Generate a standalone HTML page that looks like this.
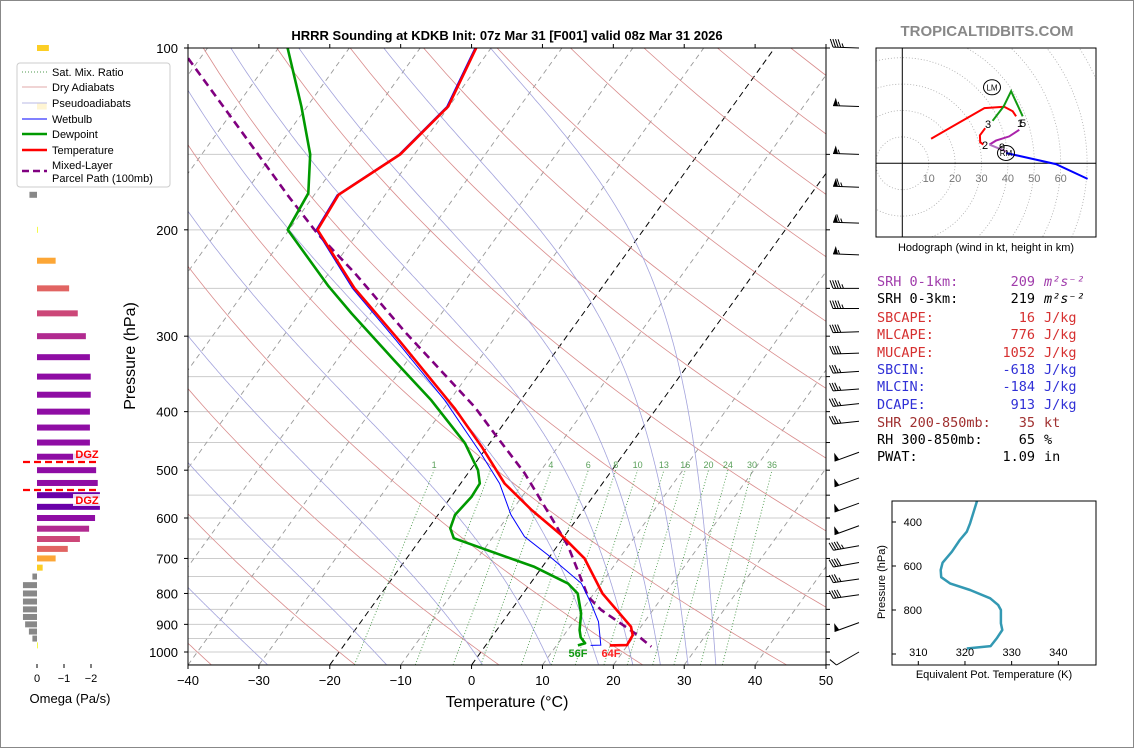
<!DOCTYPE html>
<html><head><meta charset="utf-8"><style>
html,body{margin:0;padding:0;background:#fff;}
svg{display:block;font-family:"Liberation Sans","DejaVu Sans",sans-serif;}
.mono{font-family:"DejaVu Sans Mono","Liberation Mono",monospace;font-size:13.5px;}
</style></head><body>
<svg id="chart" xmlns="http://www.w3.org/2000/svg" width="1134" height="748" viewBox="0 0 1134 748">
<defs>
<clipPath id="mainclip"><rect x="188" y="48" width="638" height="617"/></clipPath>
<clipPath id="hodoclip"><rect x="876" y="48" width="220" height="189"/></clipPath>
<clipPath id="eptclip"><rect x="892" y="501" width="204" height="164"/></clipPath>
</defs>
<rect x="0.5" y="0.5" width="1133" height="747" fill="#fff" stroke="#888"/>
<text x="507" y="40" text-anchor="middle" font-size="13" font-weight="bold">HRRR Sounding at KDKB Init: 07z Mar 31 [F001] valid 08z Mar 31 2026</text>
<text x="987" y="36" text-anchor="middle" font-size="15" font-weight="bold" fill="#888">TROPICALTIDBITS.COM</text>
<g id="main"></g>
<g id="omega"></g>
<g id="hodo"></g>
<g id="ept"></g>
<g id="stats"></g>
</svg>
<script>
// ---------- DATA ----------
const TEMP_P = [100,125,150,175,200,250,304,395,457,526,582,640,700,800,908,938,974,975];
const TEMP_T = [-62.1,-60.1,-62.0,-66.6,-66.0,-54.8,-43.4,-28.5,-20.8,-13.8,-7.3,-0.6,5.1,11.2,18.6,19.7,19.9,17.5];
const DEW_P = [100,125,150,174,200,248,275,329,383,451,500,526,553,593,624,648,723,770,800,863,920,946,967,975];
const DEW_T = [-88.7,-80.8,-74.7,-71.0,-70.2,-58.7,-52.7,-41.9,-32.6,-23.5,-18.9,-17.3,-17.1,-17.6,-16.9,-15.4,-1.1,5.3,7.7,10.2,11.7,12.6,13.8,13.0];
const WET_P = [100,125,150,175,200,250,304,383,469,526,593,644,691,770,831,891,974,975];
const WET_T = [-62.3,-60.3,-62.2,-66.8,-66.2,-55.1,-43.8,-30.7,-20.2,-14.5,-9.7,-5.6,-0.4,7.2,10.6,13.5,16.2,14.8];
const PARCEL_P = [104,135,176,203,236,295,393,435,506,612,669,810,852,931,980];
const PARCEL_T = [-101.7,-87.7,-73.5,-65.6,-56.3,-43.3,-25.8,-20.3,-12.0,-2.7,1.6,9.5,12.7,19.8,23.5];
const T_TICKS = [-40,-30,-20,-10,0,10,20,30,40,50];
const P_TICKS = [100,200,300,400,500,600,700,800,900,1000];
const MIX_RATIOS = [1,2,3,4,6,8,10,13,16,20,24,30,36];
const MIX_LABELED = [1,4,6,8,10,13,16,20,24,30,36];
const MOIST_T0 = [-32,-15,-1,9,16,21,25,29,33];
const WIND_P = [100,125,150,170,195,220,250,270,295,320,343,367,388,415,467,515,567,618,667,711,757,804,894,1000];
const WIND_SPD = [45,55,55,65,65,55,45,45,40,40,35,35,35,35,50,50,50,50,45,40,35,40,50,10];
const WIND_DIR = [272,272,272,272,272,272,270,270,268,268,266,266,264,264,250,250,250,250,260,260,262,262,250,240];
const OMEGA_P = [100,125,175,200,225,250,275,300,325,350,375,400,425,450,475,500,525,550,575,600,625,650,675,700,725,750,775,800,825,850,875,900,925,950,975];
const OMEGA = [-0.44,-0.36,0.28,-0.03,-0.69,-1.19,-1.51,-1.81,-1.96,-1.99,-1.99,-1.96,-1.96,-1.96,-2.03,-2.19,-2.25,-2.33,-2.33,-2.15,-1.93,-1.59,-1.14,-0.69,-0.21,0.17,0.52,0.52,0.52,0.52,0.52,0.44,0.30,0.17,-0.02];
const OMEGA_TICKS = [0,-1,-2];
const HODO_RED = [[10.9,9.3],[31.1,20.9],[38.6,21.4],[41.8,19.7],[43.1,17.8]];
const HODO_RED2 = [[31.4,13.3],[29.4,10.6],[29.5,8.0],[30.7,7.1]];
const HODO_GREEN = [[34.2,16.1],[38.4,21.6],[41.2,27.3],[45.6,17.8]];
const HODO_MAGENTA = [[44.3,12.7],[40.5,10.2],[35.5,8.6],[33.0,7.1]];
const HODO_PURPLE = [[33.0,7.1],[39.3,4.5]];
const HODO_BLUE = [[39.3,3.9],[58.2,-0.3],[70.2,-5.9]];
const HODO_RINGS = [10,20,30,40,50,60,70,80];
const HODO_LABELS = [10,20,30,40,50,60];
const EPT_P = [303,406,444,482,535,585,618,651,679,709,747,777,800,861,891,929,964,975];
const EPT_K = [322.6,321.1,320.4,318.9,317.2,315.2,314.8,314.9,316.8,321.1,325.4,327.1,327.7,327.7,328.0,326.8,325.5,320.4];
const EPT_PTICKS = [400,600,800,1000];
const EPT_PLABELS = [400,600,800];
const EPT_KTICKS = [310,320,330,340];

// ---------- HELPERS ----------
const NS='http://www.w3.org/2000/svg';
function mk(parent, tag, attrs){const e=document.createElementNS(NS,tag);for(const k in attrs)e.setAttribute(k,attrs[k]);parent.appendChild(e);return e;}
const main=document.getElementById('main');
const X0=188,X1=826,Y0=48,Y1=665,PXC=638/90,SKEW=0.721;
function yP(p){return Y0+(Math.log10(p)-2)*604;}
function xT(t,p){return X0+(t+40)*PXC+SKEW*(Y1-yP(p));}
function pts(P,T){return P.map((p,i)=>xT(T[i],p).toFixed(1)+','+yP(p).toFixed(1)).join(' ');}
const minus=s=>String(s).replace('-','\u2212');

// ---------- MAIN BACKGROUND LINES ----------
const bg=mk(main,'g',{'clip-path':'url(#mainclip)'});


for(let p=100;p<=1050;p+=50){
  const l=mk(bg,'line',{x1:X0,x2:X1,y1:yP(p),y2:yP(p),stroke:'#ccc','stroke-width':1});
  
  
}
for(let t=-120;t<=50;t+=10){
  const blk=(t===0||t===-20);
  const l=mk(bg,'line',{x1:xT(t,1050),y1:yP(1050),x2:xT(t,100),y2:yP(100),stroke:blk?'#000':'#999','stroke-width':blk?1:0.9,'stroke-dasharray':blk?'6,4':'5,4'});
  
  
}
for(let t0=-60;t0<=240;t0+=20){
  const th=t0+273.15;let s=[];
  for(let p=1050;p>=100;p-=10){const T=th*Math.pow(p/1000,0.2857)-273.15;s.push(xT(T,p).toFixed(1)+','+yP(p).toFixed(1));}
  const l=mk(bg,'polyline',{points:s.join(' '),fill:'none',stroke:'#d98c8c','stroke-width':0.8});
  
  
}
function es(Tk){return 6.112*Math.exp(17.67*(Tk-273.15)/(Tk-29.65));}
function dTdp(T,p){const e=es(T);const rs=0.622*e/(p-e);const Rd=287.04,cp=1005.7,Lv=2.501e6;return (Rd*T+Lv*rs)/(cp+Lv*Lv*rs*0.622/(Rd*T*T))/p;}
MOIST_T0.forEach(t0=>{
  let T=t0+273.15,up=[];
  for(let p=1000;p>=100;p-=2){up.push([p,T]);T-=dTdp(T,p)*2;}
  T=t0+273.15;let dn=[];
  for(let p=1000;p<=1050;p+=2){dn.unshift([p,T]);T+=dTdp(T,p)*2;}
  const all=dn.concat(up);
  const l=mk(bg,'polyline',{points:all.map(a=>xT(a[1]-273.15,a[0]).toFixed(1)+','+yP(a[0]).toFixed(1)).join(' '),fill:'none',stroke:'#a3a3dc','stroke-width':0.8});
  
  
});
function tdFromW(w,p){const e=w*p/(622+w);const g=Math.log(e/6.112);return 243.5*g/(17.67-g);}
MIX_RATIOS.forEach(w=>{
  const l=mk(bg,'line',{x1:xT(tdFromW(w,1050),1050),y1:yP(1050),x2:xT(tdFromW(w,500),500),y2:yP(500),stroke:'#4c9a4c','stroke-width':0.9,'stroke-dasharray':'1,2'});
  
  
});
MIX_LABELED.forEach(w=>{
  const t=mk(bg,'text',{x:xT(tdFromW(w,500),500),y:468,'text-anchor':'middle','font-size':9,fill:'#5aa05a'});
  t.textContent=w;
  
  
});

// ---------- PROFILES ----------
const prof=mk(main,'g',{'clip-path':'url(#mainclip)'});


let e;
e=mk(prof,'polyline',{points:pts(PARCEL_P,PARCEL_T),fill:'none',stroke:'#800080','stroke-width':2.6,'stroke-dasharray':'8,5'});


e=mk(prof,'polyline',{points:pts(WET_P,WET_T),fill:'none',stroke:'#0000ff','stroke-width':1});


e=mk(prof,'polyline',{points:pts(DEW_P,DEW_T),fill:'none',stroke:'#009900','stroke-width':2.6,'stroke-linejoin':'round'});


e=mk(prof,'polyline',{points:pts(TEMP_P,TEMP_T),fill:'none',stroke:'#ff0000','stroke-width':2.6,'stroke-linejoin':'round'});


e=mk(main,'text',{x:578,y:657,'text-anchor':'middle','font-size':11,'font-weight':'bold',fill:'#119911'});
e.textContent='56F';


e=mk(main,'text',{x:611,y:657,'text-anchor':'middle','font-size':11,'font-weight':'bold',fill:'#ff2020'});
e.textContent='64F';



// ---------- AXES ----------
e=mk(main,'rect',{x:X0,y:Y0,width:X1-X0,height:Y1-Y0,fill:'none',stroke:'#000','stroke-width':1});


T_TICKS.forEach(t=>{
  const x=X0+(t+40)*PXC;
  let l=mk(main,'line',{x1:x,x2:x,y1:Y1,y2:Y1+4,stroke:'#000'});
  
  
  l=mk(main,'line',{x1:x,x2:x,y1:Y0,y2:Y0-4,stroke:'#000'});
  
  
  const tx=mk(main,'text',{x:x,y:685,'text-anchor':'middle','font-size':13});
  tx.textContent=minus(t);
  
  
});
P_TICKS.forEach(p=>{
  const y=yP(p);
  let l=mk(main,'line',{x1:X0-4,x2:X0,y1:y,y2:y,stroke:'#000'});
  
  
  const tx=mk(main,'text',{x:178,y:y+5,'text-anchor':'end','font-size':13});
  tx.textContent=p;
  
  
});
for(let p=100;p<=1050;p+=50){
  const l=mk(main,'line',{x1:X1,x2:X1+4,y1:yP(p),y2:yP(p),stroke:'#000'});
  
  
}
e=mk(main,'text',{x:507,y:707,'text-anchor':'middle','font-size':16});
e.textContent='Temperature (°C)';


e=mk(main,'text',{x:135,y:356,'text-anchor':'middle','font-size':16,transform:'rotate(-90 135 356)'});
e.textContent='Pressure (hPa)';



// ---------- WIND BARBS ----------
const barbs=mk(main,'g',{});


WIND_P.forEach((p,i)=>{
  const bx=859,by=yP(p),L=26,h=8;
  const d=WIND_DIR[i]*Math.PI/180;
  const s=[Math.sin(d),-Math.cos(d)];
  const pr=[-s[1],s[0]];
  const tip=[bx+L*s[0],by+L*s[1]];
  const g=mk(barbs,'g',{});
  
  
  mk(g,'line',{x1:bx,y1:by,x2:tip[0],y2:tip[1],stroke:'#000','stroke-width':1});
  let spd=Math.round(WIND_SPD[i]/5)*5;
  let flags=Math.floor(spd/50);spd-=flags*50;
  let full=Math.floor(spd/10);spd-=full*10;
  let half=spd>=5?1:0;
  let off=0;
  for(let k=0;k<flags;k++){
    const P=[tip[0]-off*s[0],tip[1]-off*s[1]];
    const Q=[P[0]-5*s[0],P[1]-5*s[1]];
    const A=[P[0]-2.5*s[0]+h*pr[0],P[1]-2.5*s[1]+h*pr[1]];
    mk(g,'polygon',{points:P.join(',')+' '+A.join(',')+' '+Q.join(','),fill:'#000'});
    off+=6.5;
  }
  for(let k=0;k<full;k++){
    const P=[tip[0]-off*s[0],tip[1]-off*s[1]];
    mk(g,'line',{x1:P[0],y1:P[1],x2:P[0]+h*pr[0]+3*s[0],y2:P[1]+h*pr[1]+3*s[1],stroke:'#000','stroke-width':1});
    off+=2.6;
  }
  if(half){
    if(flags+full===0)off+=2.6;
    const P=[tip[0]-off*s[0],tip[1]-off*s[1]];
    mk(g,'line',{x1:P[0],y1:P[1],x2:P[0]+h/2*pr[0]+1.5*s[0],y2:P[1]+h/2*pr[1]+1.5*s[1],stroke:'#000','stroke-width':1});
  }
});

// ---------- OMEGA PANEL ----------
const om=document.getElementById('omega');
const OX=37,OS=27;
const PLASMA=['#0d0887','#41049d','#6a00a8','#8f0da4','#b12a90','#cc4778','#e16462','#f2844b','#fca636','#fcce25','#f0f921'];
function plasma(t){t=Math.max(0,Math.min(1,t));return PLASMA[Math.round(t*10)];}
OMEGA_P.forEach((p,i)=>{
  const v=OMEGA[i],y=yP(p)-3;
  const w=Math.abs(v)*OS;
  const r=mk(om,'rect',{x:v<0?OX:OX-w,y:y,width:Math.max(w,0.8),height:6,fill:v>0?'#888888':plasma(1-(-v)/3)});
  
  
});
[462,490].forEach((y,i)=>{
  const l=mk(om,'line',{x1:23,x2:99,y1:y,y2:y,stroke:'#ff0000','stroke-width':2.2,'stroke-dasharray':'7,4'});
  
  
  const r=mk(om,'rect',{x:73,y:i?494:448,width:27,height:12,fill:'#fff',opacity:0.85});
  
  
  const t=mk(om,'text',{x:87,y:i?504:458,'text-anchor':'middle','font-size':11,'font-weight':'bold',fill:'#ff0000'});
  t.textContent='DGZ';
  
  
});
OMEGA_TICKS.forEach(v=>{
  const x=OX-v*OS;
  const l=mk(om,'line',{x1:x,x2:x,y1:664,y2:668,stroke:'#000'});
  
  
  const t=mk(om,'text',{x:x,y:682,'text-anchor':'middle','font-size':11});
  t.textContent=minus(v);
  
  
});
e=mk(om,'text',{x:70,y:703,'text-anchor':'middle','font-size':13});
e.textContent='Omega (Pa/s)';



// ---------- LEGEND ----------
const lg=mk(om,'g',{});


e=mk(lg,'rect',{x:17,y:63,width:153,height:124,rx:3,fill:'#fff','fill-opacity':0.8,stroke:'#ccc'});


const LEG=[['Sat. Mix. Ratio','#4c9a4c',0.9,'1,2',72],['Dry Adiabats','#d98c8c',0.8,'',87],['Pseudoadiabats','#a3a3dc',0.8,'',103],['Wetbulb','#0000ff',1,'',119],['Dewpoint','#009900',2.6,'',134],['Temperature','#ff0000',2.6,'',150],['Mixed-Layer','#800080',2.6,'7,4',171]];
LEG.forEach(r=>{
  const g=mk(lg,'g',{});
  
  
  mk(g,'line',{x1:22,x2:47,y1:r[4],y2:r[4],stroke:r[1],'stroke-width':r[2],'stroke-dasharray':r[3]});
  const t=mk(g,'text',{x:52,y:r[4]+(r[0]==='Mixed-Layer'?-2:4),'font-size':11});
  t.textContent=r[0];
});
e=mk(lg,'text',{x:52,y:182,'font-size':11});
e.textContent='Parcel Path (100mb)';



// ---------- HODOGRAPH ----------
const ho=document.getElementById('hodo');
const HX=902.3,HY=163.3,HK=2.64;
function hpts(a){return a.map(q=>(HX+q[0]*HK).toFixed(1)+','+(HY-q[1]*HK).toFixed(1)).join(' ');}
const hc=mk(ho,'g',{'clip-path':'url(#hodoclip)'});


HODO_RINGS.forEach(r=>{
  const c=mk(hc,'circle',{cx:HX,cy:HY,r:r*HK,fill:'none',stroke:'#aaa','stroke-width':0.8,'stroke-dasharray':'1,2'});
  
  
});
e=mk(hc,'line',{x1:HX,x2:HX,y1:48,y2:237,stroke:'#000','stroke-width':1});


e=mk(hc,'line',{x1:876,x2:1096,y1:HY,y2:HY,stroke:'#000','stroke-width':1});


HODO_LABELS.forEach(r=>{
  const t=mk(hc,'text',{x:HX+r*HK,y:182,'text-anchor':'middle','font-size':11,fill:'#777'});
  t.textContent=r;
  
  
});
[[HODO_RED,'#ff0000'],[HODO_RED2,'#ff0000'],[HODO_GREEN,'#119911'],[HODO_MAGENTA,'#aa22aa'],[HODO_PURPLE,'#b070c0'],[HODO_BLUE,'#0000ff']].forEach(s=>{
  const l=mk(hc,'polyline',{points:hpts(s[0]),fill:'none',stroke:s[1],'stroke-width':2});
  
  
});
[['3',988,128],['1',1020,127],['5',1023,127],['2',985,149],['9',1002,151]].forEach(q=>{
  const t=mk(hc,'text',{x:q[1],y:q[2],'text-anchor':'middle','font-size':11});
  t.textContent=q[0];
  
  
});
[['LM',992,87.3],['RM',1006,153]].forEach(q=>{
  const c=mk(hc,'ellipse',{cx:q[1],cy:q[2],rx:8.5,ry:7.5,fill:'none',stroke:'#000','stroke-width':1});
  
  
  const t=mk(hc,'text',{x:q[1],y:q[2]+3,'text-anchor':'middle','font-size':8});
  t.textContent=q[0];
  
  
});
e=mk(ho,'rect',{x:876,y:48,width:220,height:189,fill:'none',stroke:'#000','stroke-width':1});


e=mk(ho,'text',{x:986,y:251,'text-anchor':'middle','font-size':11});
e.textContent='Hodograph (wind in kt, height in km)';



// ---------- EPT PANEL ----------
const ep=document.getElementById('ept');
const EX0=892,EX1=1096,EY0=501,EY1=665;
function ex(k){return 918.3+(k-310)*4.667;}
function ey(p){return 522+(p-400)*0.22;}
const ec=mk(ep,'g',{'clip-path':'url(#eptclip)'});


e=mk(ec,'polyline',{points:EPT_P.map((p,i)=>ex(EPT_K[i]).toFixed(1)+','+ey(p).toFixed(1)).join(' '),fill:'none',stroke:'#3399b3','stroke-width':2.5,'stroke-linejoin':'round'});


e=mk(ep,'rect',{x:EX0,y:EY0,width:EX1-EX0,height:EY1-EY0,fill:'none',stroke:'#000','stroke-width':1});


EPT_PTICKS.forEach(p=>{
  const l=mk(ep,'line',{x1:EX0,x2:EX0+4,y1:ey(p),y2:ey(p),stroke:'#000'});
  
  
});
EPT_PLABELS.forEach(p=>{
  const t=mk(ep,'text',{x:922,y:ey(p)+4,'text-anchor':'end','font-size':11});
  t.textContent=p;
  
  
});
EPT_KTICKS.forEach(k=>{
  const l=mk(ep,'line',{x1:ex(k),x2:ex(k),y1:EY1-4,y2:EY1,stroke:'#000'});
  
  
  const t=mk(ep,'text',{x:ex(k),y:656,'text-anchor':'middle','font-size':11});
  t.textContent=k;
  
  
});
e=mk(ep,'text',{x:885,y:582,'text-anchor':'middle','font-size':11,transform:'rotate(-90 885 582)'});
e.textContent='Pressure (hPa)';


e=mk(ep,'text',{x:994,y:678,'text-anchor':'middle','font-size':11});
e.textContent='Equivalent Pot. Temperature (K)';



// ---------- STATS ----------
const st=document.getElementById('stats');
const STATS=[['SRH 0-1km:','209','m²s⁻²','#a03cab',286,true],['SRH 0-3km:','219','m²s⁻²','#000',303,true],['SBCAPE:','16','J/kg','#d63030',322],['MLCAPE:','776','J/kg','#d63030',339],['MUCAPE:','1052','J/kg','#d63030',357],['SBCIN:','-618','J/kg','#3030d6',374],['MLCIN:','-184','J/kg','#3030d6',391],['DCAPE:','913','J/kg','#3030d6',409],['SHR 200-850mb:','35','kt','#a03030',427],['RH 300-850mb:','65','%','#000',444],['PWAT:','1.09','in','#000',461]];
STATS.forEach(r=>{
  const g=mk(st,'g',{fill:r[3]});
  
  
  let t=mk(g,'text',{x:877,y:r[4],class:'mono'});t.textContent=r[0];
  t=mk(g,'text',{x:1035,y:r[4],class:'mono','text-anchor':'end'});t.textContent=r[1];
  t=mk(g,'text',{x:1044,y:r[4],class:'mono','font-style':r[5]?'italic':'normal'});t.textContent=r[2];
});
</script>
</body></html>
